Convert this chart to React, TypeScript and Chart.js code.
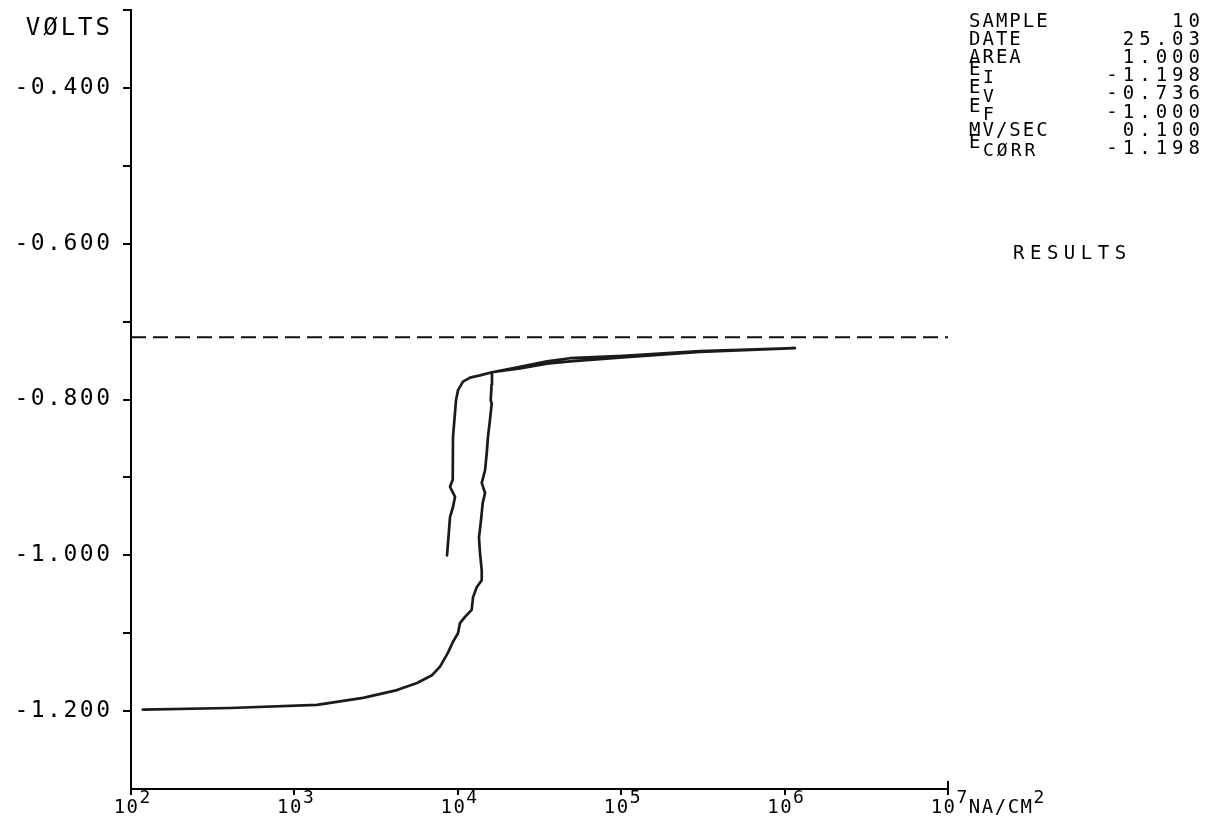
import React, { useEffect, useRef } from "react";
import { Chart, registerables } from "chart.js";

Chart.register(...registerables);

const FONT = '"DejaVu Sans Mono", monospace';

// x axis: current density, decades
const X_TICKS = [1e2, 1e3, 1e4, 1e5, 1e6, 1e7];
const X_TICK_BASE = "10";
const X_TICK_EXPONENTS = ["2", "3", "4", "5", "6", "7"];
const X_UNIT = "NA/CM";
const X_UNIT_EXPONENT = "2";

// y axis: potential
const Y_TICKS = [-1.3, -1.2, -1.1, -1.0, -0.9, -0.8, -0.7, -0.6, -0.5, -0.4, -0.3];
const Y_TICK_LABELS = ["", "-1.200", "", "-1.000", "", "-0.800", "", "-0.600", "", "-0.400", ""];
const Y_TITLE = "VØLTS";

// potentiodynamic scan: E_I -> E_V -> E_F
const SCAN_CURRENT = [
  118, 404, 1374, 2630, 4246, 5626, 6950, 7787, 8710, 9346, 10030, 10315, 11070, 12160,
  12390, 13050, 14010, 14010, 13670, 13480, 13870, 14200, 14680, 14010, 14680, 15030,
  15300, 15740, 16130, 15900, 16100, 16190, 24020, 35150, 48610, 102600, 303500, 1157000,
  303500, 102600, 48610, 35150, 24020, 16190, 13670, 11880, 10760, 10030, 9750, 9346,
  9310, 8960, 9614, 9346, 8960, 8834, 8590,
];
const SCAN_VOLTS = [
  -1.198, -1.196, -1.192, -1.183, -1.173, -1.164, -1.154, -1.143, -1.125, -1.111, -1.1, -1.087, -1.079, -1.07,
  -1.054, -1.041, -1.032, -1.019, -0.997, -0.977, -0.955, -0.933, -0.92, -0.907, -0.891, -0.869,
  -0.848, -0.826, -0.805, -0.801, -0.781, -0.765, -0.758, -0.751, -0.747, -0.744, -0.738, -0.734,
  -0.739, -0.746, -0.751, -0.754, -0.76, -0.765, -0.769, -0.772, -0.777, -0.788, -0.801, -0.848,
  -0.903, -0.912, -0.925, -0.938, -0.951, -0.968, -1.0,
];

// dashed reference potential
const REF_CURRENT = [1e2, 1e7];
const REF_VOLTS = [-0.72, -0.72];

// parameter block
const INFO_NAMES = ["SAMPLE", "DATE", "AREA", "E", "E", "E", "MV/SEC", "E"];
const INFO_SUBSCRIPTS = ["", "", "", "I", "V", "F", "", "CØRR"];
const INFO_VALUES = ["10", "25.03", "1.000", "-1.198", "-0.736", "-1.000", "0.100", "-1.198"];
const RESULTS_TITLE = "RESULTS";

const W = 1207;
const H = 829;

export default function App() {
  const ref = useRef<HTMLCanvasElement>(null);

  useEffect(() => {
    const canvas = ref.current;
    if (!canvas) return;

    const scanPoints = SCAN_CURRENT.map((c, i) => ({ x: c, y: SCAN_VOLTS[i] }));
    const refPoints = REF_CURRENT.map((c, i) => ({ x: c, y: REF_VOLTS[i] }));

    const plotterPlugin = {
      id: "plotterText",
      beforeDraw(chart: any) {
        chart.ctx.letterSpacing = "2.5px";
      },
      afterDraw(chart: any) {
        const ctx = chart.ctx as any;
        const xs = chart.scales.x;
        const bottom = chart.chartArea.bottom;
        ctx.save();
        ctx.fillStyle = "#000";
        ctx.strokeStyle = "#000";

        // y title
        ctx.font = `24px ${FONT}`;
        ctx.letterSpacing = "3px";
        ctx.textAlign = "right";
        ctx.textBaseline = "alphabetic";
        ctx.fillText(Y_TITLE, 113, 35);

        // x tick labels with raised exponents
        ctx.letterSpacing = "1.5px";
        ctx.textAlign = "left";
        const baseY = bottom + 24;
        const expY = bottom + 14;
        X_TICKS.forEach((v, i) => {
          const px = xs.getPixelForValue(v);
          ctx.font = `19px ${FONT}`;
          const wB = ctx.measureText(X_TICK_BASE).width;
          ctx.font = `18px ${FONT}`;
          const wE = ctx.measureText(X_TICK_EXPONENTS[i]).width;
          const start = px - (wB + wE - 1.5) / 2 + 1;
          ctx.font = `19px ${FONT}`;
          ctx.fillText(X_TICK_BASE, start, baseY);
          ctx.font = `18px ${FONT}`;
          ctx.fillText(X_TICK_EXPONENTS[i], start + wB, expY);
          if (i === X_TICKS.length - 1) {
            const uStart = start + wB + wE;
            ctx.font = `19px ${FONT}`;
            ctx.fillText(X_UNIT, uStart, baseY);
            const wU = ctx.measureText(X_UNIT).width;
            ctx.font = `18px ${FONT}`;
            ctx.fillText(X_UNIT_EXPONENT, uStart + wU, expY);
          }
        });

        // closing bracket tick at the right end of the x axis
        const pxEnd = xs.getPixelForValue(X_TICKS[X_TICKS.length - 1]);
        ctx.lineWidth = 2;
        ctx.beginPath();
        ctx.moveTo(pxEnd, bottom);
        ctx.lineTo(pxEnd, bottom - 8);
        ctx.stroke();
        ctx.restore();
      },
    };

    const chart = new Chart(canvas, {
      type: "scatter",
      data: {
        datasets: [
          {
            data: scanPoints,
            showLine: true,
            borderColor: "#1a1a1a",
            borderWidth: 2.7,
            pointRadius: 0,
            tension: 0,
            borderJoinStyle: "round",
            borderCapStyle: "round",
          },
          {
            data: refPoints,
            showLine: true,
            borderColor: "#111",
            borderWidth: 2,
            borderDash: [15, 7],
            pointRadius: 0,
          },
        ],
      } as any,
      options: {
        responsive: false,
        animation: false,
        events: [],
        layout: { padding: { top: 10, right: W - 948, left: 0, bottom: 0 } },
        plugins: { legend: { display: false }, tooltip: { enabled: false } },
        scales: {
          x: {
            type: "logarithmic",
            min: 1e2,
            max: 1e7,
            afterBuildTicks: (s: any) => {
              s.ticks = X_TICKS.map((v) => ({ value: v }));
            },
            afterFit: (s: any) => {
              s.height = H - 789;
              s.paddingLeft = 0;
              s.paddingRight = 0;
            },
            ticks: { display: false },
            grid: { drawOnChartArea: false, drawTicks: true, tickLength: 6, color: "#000", lineWidth: 2 },
            border: { display: true, color: "#000", width: 2 },
          },
          y: {
            type: "linear",
            min: -1.3,
            max: -0.3,
            afterBuildTicks: (s: any) => {
              s.ticks = Y_TICKS.map((v) => ({ value: v }));
            },
            afterFit: (s: any) => {
              s.width = 131;
              s.paddingTop = 0;
              s.paddingBottom = 0;
            },
            ticks: {
              callback: (_v: any, i: number) => Y_TICK_LABELS[i],
              font: { family: FONT, size: 23 },
              color: "#000",
              padding: 10.5,
              autoSkip: false,
            },
            grid: {
              drawOnChartArea: false,
              drawTicks: true,
              tickLength: 8,
              color: (c: any) => (c.index === 0 ? "rgba(0,0,0,0)" : "#000"),
              lineWidth: 2,
            },
            border: { display: true, color: "#000", width: 2 },
          },
        },
      } as any,
      plugins: [plotterPlugin],
    });

    return () => chart.destroy();
  }, []);

  // cap-top of each value row
  const capTop = (i: number) => 13 + i * 18.15;
  const base: React.CSSProperties = {
    position: "absolute",
    fontFamily: FONT,
    fontSize: 19,
    lineHeight: "19px",
    color: "#000",
    whiteSpace: "pre",
  };
  const nameStyle = { ...base, letterSpacing: "2px" };
  const subStyle = { ...base, fontSize: 18, lineHeight: "18px", letterSpacing: "3px" };
  const valStyle = { ...base, letterSpacing: "5px", textAlign: "right" as const };

  return (
    <div style={{ position: "fixed", left: 0, top: 0, width: W, height: H, background: "#fff" }}>
      <canvas ref={ref} width={W} height={H} style={{ display: "block", width: W, height: H }} />
      {INFO_NAMES.map((name, i) => (
        <React.Fragment key={i}>
          {INFO_SUBSCRIPTS[i] ? (
            <>
              <span style={{ ...nameStyle, left: 969, top: capTop(i) - 6 - 2.2 }}>{name}</span>
              <span style={{ ...subStyle, left: 983, top: capTop(i) + 3 - 2.1 }}>{INFO_SUBSCRIPTS[i]}</span>
            </>
          ) : (
            <span style={{ ...nameStyle, left: 969, top: capTop(i) - 2.2 }}>{name}</span>
          )}
          <span style={{ ...valStyle, right: W - 1205, top: capTop(i) - 2.2 }}>{INFO_VALUES[i]}</span>
        </React.Fragment>
      ))}
      <span style={{ ...base, letterSpacing: "5.5px", left: 1013, top: 245 - 2.2 }}>{RESULTS_TITLE}</span>
    </div>
  );
}
